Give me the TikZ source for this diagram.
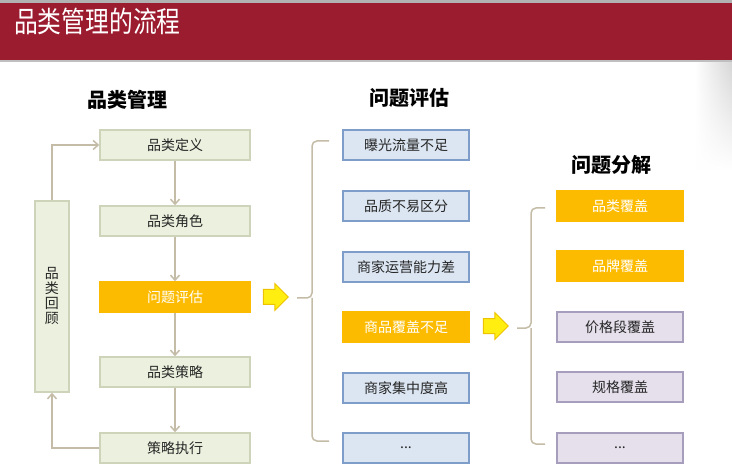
\documentclass[tikz,border=0pt]{standalone}
\usepackage{fontspec}
\setmainfont{Noto Sans CJK SC}
\usetikzlibrary{shapes.arrows,arrows.meta,fadings}
\definecolor{banner}{HTML}{9B1B2F}
\definecolor{gfill}{HTML}{EBF1DE}
\definecolor{gline}{HTML}{CDD4BA}
\definecolor{conn}{HTML}{C4BCA6}
\definecolor{orangef}{HTML}{FDBB00}
\definecolor{bfill}{HTML}{DCE6F2}
\definecolor{bline}{HTML}{7F9DC9}
\definecolor{pfill}{HTML}{E6E0EC}
\definecolor{pline}{HTML}{A69EBC}
\definecolor{yarrow}{HTML}{FFEE10}
\definecolor{yline}{HTML}{EDC200}
\newcommand{\fsz}[1]{\fontsize{#1}{#1}\selectfont}
\tikzset{
  base/.style={line width=1.5pt, minimum height=30pt, inner sep=0pt, text=black!85, font=\fsz{14}},
  gbox/.style={base, draw=gline, fill=gfill, minimum width=150pt},
  bbox/.style={base, draw=bline, fill=bfill, minimum width=126pt},
  pbox/.style={base, draw=pline, fill=pfill, minimum width=126pt},
  obox/.style={draw=orangef, fill=orangef, text=white},
  heading/.style={font=\fsz{20}\bfseries, text=black},
  connarrow/.style={draw=conn, line width=1.5pt, -{Straight Barb[length=5pt,width=9pt]}},
  bracket/.style={draw=conn, line width=1.5pt, rounded corners=5pt},
  yellowarrow/.style={single arrow, draw=yline, fill=yarrow, line width=1pt,
    minimum height=25pt, inner xsep=0pt, inner ysep=7pt, single arrow head extend=6pt}
}
\begin{document}
\begin{tikzpicture}[x=1pt,y=-1pt]
\useasboundingbox (0,0) rectangle (732,476);
\fill[white] (0,0) rectangle (732,476);
% right-edge shade
\shade[left color=white, right color=black!16, path fading=south] (695,62) rectangle (732,170);
% banner
\fill[black!30] (0,0) rectangle (732,3);
\fill[banner] (0,3) rectangle (732,60);
\fill[black!25] (0,60) rectangle (732,62);
\node[anchor=west, text=white, font=\fsz{29}, inner sep=0pt] (title) at (14,21) {\scalebox{0.82}[1]{品类管理的流程}};

% headings
\node[heading] (h1) at (127,100) {品类管理};
\node[heading] (h2) at (409,98) {问题评估};
\node[heading] (h3) at (611,165) {问题分解};

% left column
\node[gbox] (l1) at (175,145) {品类定义};
\node[gbox] (l2) at (175,221) {品类角色};
\node[gbox,obox] (l3) at (175,297) {问题评估};
\node[gbox] (l4) at (175,372) {品类策略};
\node[gbox] (l5) at (175,448) {策略执行};
\node[base, draw=gline, fill=gfill, minimum width=34pt, minimum height=191pt, align=center,
      font=\fontsize{14}{15}\selectfont] (lr) at (52,296.5) {品\\类\\回\\顾};

\draw[connarrow] (l1) -- (l2);
\draw[connarrow] (l2) -- (l3);
\draw[connarrow] (l3) -- (l4);
\draw[connarrow] (l4) -- (l5);
\draw[connarrow] (lr.north) |- (l1.west);
\draw[connarrow] (l5.west) -| (lr.south);

% arrow 1
\node[yellowarrow] (ya1) at (272,297) {};

% bracket 1
\coordinate (b1tip) at (297,298);
\coordinate (b1top) at (329,141);
\coordinate (b1bot) at (329,441);
\draw[bracket] (b1top) -- (312,141) -- (312,298) -- (b1tip);
\draw[bracket] (b1bot) -- (312,441) -- (312,298);

% middle column
\node[bbox] (m1) at (406,145) {曝光流量不足};
\node[bbox] (m2) at (406,206) {品质不易区分};
\node[bbox] (m3) at (406,267) {商家运营能力差};
\node[bbox,obox] (m4) at (406,327) {商品覆盖不足};
\node[bbox] (m5) at (406,388) {商家集中度高};
\node[bbox] (m6) at (406,448) {...};

% arrow 2
\node[yellowarrow] (ya2) at (492,326) {};

% bracket 2
\coordinate (b2tip) at (517,328);
\coordinate (b2top) at (545,208);
\coordinate (b2bot) at (545,444);
\draw[bracket] (b2top) -- (531,208) -- (531,328) -- (b2tip);
\draw[bracket] (b2bot) -- (531,444) -- (531,328);

% right column
\node[pbox,obox] (r1) at (620,206) {品类覆盖};
\node[pbox,obox] (r2) at (620,266) {品牌覆盖};
\node[pbox] (r3) at (620,327) {价格段覆盖};
\node[pbox] (r4) at (620,387) {规格覆盖};
\node[pbox] (r5) at (620,448) {...};
\end{tikzpicture}
\end{document}
